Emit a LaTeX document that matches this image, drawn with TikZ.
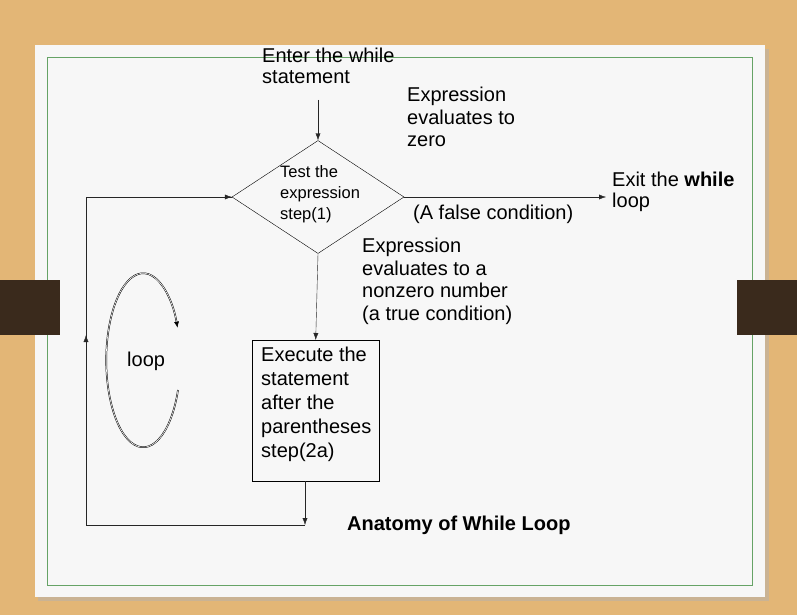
\documentclass[tikz,border=0pt]{standalone}
\usepackage{fontspec}
\setmainfont{Liberation Sans}
\usetikzlibrary{arrows.meta,shapes.geometric}
\definecolor{wood}{HTML}{E3B676}
\definecolor{tabc}{HTML}{3A2A1C}
\begin{document}
\begin{tikzpicture}[x=1pt,y=-1pt,
  lbl/.style={align=left,font=\fontsize{20}{22.5}\selectfont,inner sep=0pt,anchor=north west},
  conn/.style={draw=black!85,-{Latex[length=7pt,width=5pt]}},
  tab/.style={fill=tabc}]
\fill[wood] (0,0) rectangle (797,615);
\useasboundingbox (0,0) rectangle (797,615);
\fill[black!30,opacity=.5] (38,49) rectangle (769,601);
\fill[gray!6] (35,45) rectangle (765,597);
\draw[green!40!black!60,line width=0.8pt] (47,57) rectangle (752,585);
\fill[tab] (0,280) rectangle (60,335);
\fill[tab] (737,280) rectangle (797,335);
\node[diamond,draw,aspect=1.52,minimum width=172pt,minimum height=113pt,inner sep=0pt] (d) at (318,197) {};
\node[lbl,font=\fontsize{16.5}{21}\selectfont] (dt) at (280,165) {Test the\\expression\\step(1)};
\node[lbl,font=\fontsize{20}{21}\selectfont] (enter) at (262,48) {Enter the while\\statement};
\coordinate (ein) at (318,100);
\node[draw,minimum width=127pt,minimum height=141pt,anchor=north west,inner sep=0pt] (box) at (252,340) {};
\node[lbl,font=\fontsize{20}{24}\selectfont] (bt) at (261,347) {Execute the\\statement\\after the\\parentheses\\step(2a)};
\node[lbl] (zero) at (407,87) {Expression\\evaluates to\\zero};
\node[lbl] (false) at (413,205) {(A false condition)};
\node[lbl] (true) at (362,238) {Expression\\evaluates to a\\nonzero number\\(a true condition)};
\node[lbl,font=\fontsize{20}{21}\selectfont] (exit) at (612,172) {Exit the \textbf{while}\\loop};
\coordinate (exitpt) at (606,197);
\node[lbl] (looplbl) at (127,352) {loop};
\node[lbl,font=\bfseries\fontsize{20}{22}\selectfont] (title) at (347,516) {Anatomy of While Loop};
\coordinate (b1) at (305,525);
\coordinate (c1) at (86,525);
\coordinate (c2) at (86,197);
\draw[conn] (ein) -- (d.north);
\draw[conn] (d.east) -- (exitpt);
\draw[conn] (d.south) -- (box.north);
\draw[conn] (box.south -| b1) -- (b1);
\draw[black!85] (b1) -- (c1) -- (c2) -- (d.west);
\draw[conn] (c1) -- (86,335);
\draw[conn] (c2) -- (d.west);
\draw[double,double distance=0.6pt,line width=0.5pt,-{Latex[length=6pt,width=5pt]}] (178,390) arc[start angle=20,end angle=338,x radius=37,y radius=87];
\end{tikzpicture}
\end{document}
